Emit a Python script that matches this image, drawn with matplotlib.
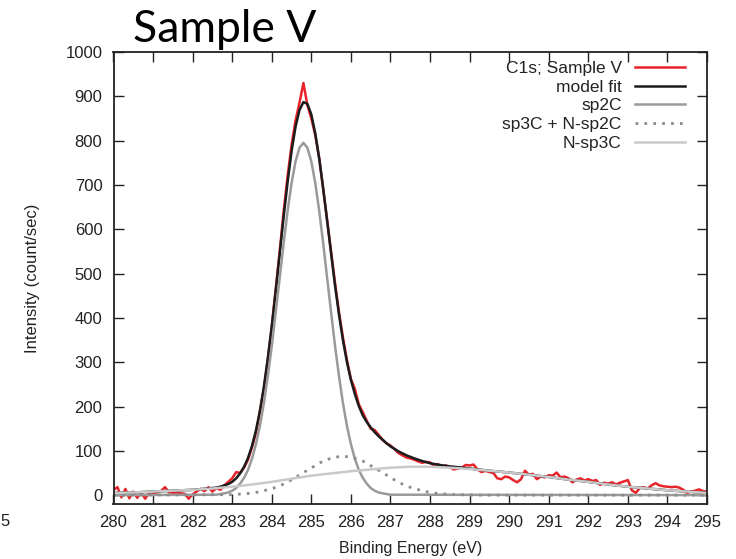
import numpy as np
import matplotlib
matplotlib.use("Agg")
import matplotlib.pyplot as plt

# ---------------- data ----------------
# measured C1s spectrum, sampled every 0.1 eV from 280.0 to 295.0
energy = np.linspace(280.0, 295.0, 151)
c1s = [12, 18, -5, 14, -7, 8, -6, 6, -8, 5,
       4, 6, 9, 18, 7, 5, 6, 4, 3, -8,
       2, 8, 14, 9, 18, 8, 16, 12, 22, 30,
       38, 52, 50, 62, 80, 108, 140, 188, 240, 305,
       380, 465, 550, 640, 720, 790, 845, 885, 930, 880,
       850, 812, 760, 690, 620, 548, 478, 412, 355, 305,
       262, 240, 205, 187, 168, 150, 147, 136, 125, 117,
       112, 104, 95, 90, 85, 83, 80, 76, 73, 75,
       74, 66, 70, 64, 67, 63, 58, 60, 62, 68,
       67, 69, 58, 52, 55, 52, 50, 38, 36, 42,
       40, 34, 29, 36, 55, 46, 48, 36, 42, 40,
       45, 44, 51, 40, 42, 38, 29, 35, 38, 33,
       36, 32, 34, 23, 28, 26, 29, 24, 28, 31,
       34, 11, 5, 16, 18, 15, 22, 27, 22, 20,
       19, 18, 19, 17, 12, 5, 8, 10, 13, 9,
       8]

model_x = [280.0, 280.5, 281.0, 281.5, 282.0, 282.5,
           282.6, 282.7, 282.8, 282.9, 283.0, 283.1, 283.2, 283.3, 283.4, 283.5,
           283.6, 283.7, 283.8, 283.9, 284.0, 284.1, 284.2, 284.3, 284.4, 284.5,
           284.6, 284.7, 284.8, 284.9, 285.0, 285.1, 285.2, 285.3, 285.4, 285.5,
           285.6, 285.7, 285.8, 285.9, 286.0, 286.1, 286.2, 286.3, 286.4, 286.5,
           286.6, 286.7, 286.8, 286.9, 287.0, 287.2, 287.4, 287.6, 287.8, 288.0,
           288.25, 288.5, 289.0, 289.5, 290.0, 290.5, 291.0, 291.5, 292.0, 292.5,
           293.0, 293.5, 294.0, 294.5, 295.0]
model_y = [5, 6, 8, 10, 12, 16,
           17, 19, 22, 25, 30, 38, 49, 64, 84, 111,
           146, 190, 244, 309, 381, 461, 544, 628, 706, 776,
           831, 869, 887, 883, 859, 816, 759, 692, 619, 545,
           472, 407, 349, 300, 260, 228, 201, 180, 165, 153,
           142, 133, 125, 117, 110, 99, 90, 83, 77, 72,
           68, 65, 60, 55, 51, 46, 41, 35, 30, 24,
           19, 15, 11, 8, 5]

sp2c_x = [280.0, 282.6, 282.8, 282.9, 283.0, 283.1, 283.2, 283.3, 283.4, 283.5,
          283.6, 283.7, 283.8, 283.9, 284.0, 284.1, 284.2, 284.3, 284.4, 284.5,
          284.6, 284.7, 284.8, 284.9, 285.0, 285.1, 285.2, 285.3, 285.4, 285.5,
          285.6, 285.7, 285.8, 285.9, 286.0, 286.1, 286.2, 286.3, 286.4, 286.5,
          286.6, 286.7, 286.8, 287.0, 295.0]
sp2c_y = [0, 1, 4, 6, 10, 16, 26, 39, 57, 82,
          115, 156, 207, 268, 336, 412, 490, 568, 641, 704,
          753, 784, 795, 784, 753, 704, 641, 568, 490, 412,
          336, 268, 207, 156, 115, 82, 57, 39, 26, 16,
          10, 6, 4, 1, 0]

sp3c_x = [280.0, 283.0, 283.3, 283.55, 283.8, 284.05, 284.3, 284.55, 284.8, 285.05,
          285.3, 285.55, 285.8, 286.05, 286.3, 286.55, 286.8, 287.05, 287.3, 287.55,
          287.8, 288.05, 288.3, 288.6, 289.3, 295.0]
sp3c_y = [0, 1, 3, 5, 10, 16, 25, 37, 51, 64,
          77, 85, 88, 85, 77, 64, 51, 37, 25, 16,
          10, 5, 3, 1, 0, 0]

nsp3c_x = [280.0, 280.5, 281.0, 281.5, 282.0, 282.5, 283.0, 283.5, 284.0, 284.5,
           285.0, 285.5, 286.0, 286.5, 287.0, 287.5, 288.0, 288.5, 289.0, 289.5,
           290.0, 290.5, 291.0, 291.5, 292.0, 292.5, 293.0, 293.5, 294.0, 294.5,
           295.0]
nsp3c_y = [5, 6, 8, 10, 12, 15, 19, 24, 30, 37,
           44, 49, 54, 58, 62, 64, 64, 62, 59, 55,
           51, 46, 41, 35, 30, 24, 19, 15, 11, 8,
           5]

series_labels = ["C1s; Sample V", "model fit", "sp2C", "sp3C + N-sp2C", "N-sp3C"]
x_ticks = list(range(280, 296))
y_ticks = list(range(0, 1001, 100))

# ---------------- plot ----------------
plt.rcParams['font.family'] = ['Liberation Sans', 'DejaVu Sans']
fig = plt.figure(figsize=(7.36, 5.59), dpi=100)
ax = fig.add_axes([113.5 / 736, 1 - 504 / 559, (707 - 113.5) / 736, (504 - 52) / 559])

lw = 1.8
ax.plot(energy, c1s, color="#e8232a", lw=lw, label=series_labels[0])
ax.plot(model_x, model_y, color="#1c1c1c", lw=lw, label=series_labels[1])
ax.plot(sp2c_x, sp2c_y, color="#9a9a9a", lw=lw, label=series_labels[2])
ax.plot(sp3c_x, sp3c_y, color="#8c8c8c", lw=2.0, linestyle=(0, (1, 2.2)),
        label=series_labels[3])
ax.plot(nsp3c_x, nsp3c_y, color="#c9c9c9", lw=lw, label=series_labels[4])

ax.set_xlim(280, 295)
ax.set_ylim(-20, 1000)
ax.set_xticks(x_ticks)
ax.set_yticks(y_ticks)
ax.tick_params(direction="in", top=True, right=True, length=7, width=1,
               labelsize=12, pad=8, colors="#222222")
for s in ax.spines.values():
    s.set_linewidth(1.3)
    s.set_color("#222222")

ax.set_xlabel("Binding Energy (eV)", fontsize=11.5, labelpad=8, color="#222222")
ax.set_ylabel("Intensity (count/sec)", fontsize=12, labelpad=18, color="#222222")

leg = ax.legend(loc="upper right", bbox_to_anchor=((685 - 113.5) / 593.5, (504 - 61) / 452),
                frameon=False, markerfirst=False, fontsize=12.5, handlelength=2.9,
                handletextpad=0.75, labelspacing=0.2, borderpad=0, borderaxespad=0)
for t in leg.get_texts():
    t.set_color("#222222")

fig.text(133 / 736, 1 - 42 / 559, "Sample V", fontsize=32, family=["Lato", "DejaVu Sans"],
         va="baseline", ha="left", color="black")
# partly visible tick label of a neighbouring panel at the left edge
fig.text(0.5 / 736, 1 - 521 / 559, "5", fontsize=12, ha="left", va="center", color="#222222")

fig.savefig("out.png", dpi=100)
